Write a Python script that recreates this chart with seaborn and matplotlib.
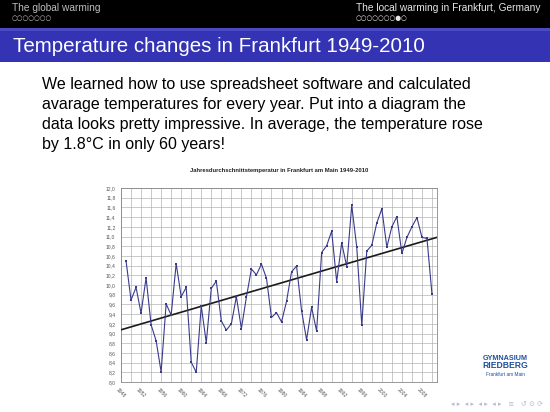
import matplotlib
matplotlib.use("Agg")
import matplotlib.pyplot as plt
import numpy as np
import pandas as pd
import seaborn as sns
from matplotlib.patches import Rectangle
from matplotlib.ticker import FixedLocator


sns.set_style("white")
plt.rcParams["font.family"] = ["Liberation Sans", "DejaVu Sans"]

years = list(range(1949, 2011))
temps = [
    10.50, 9.69, 9.95, 9.42, 10.15, 9.18, 8.85, 8.21, 9.61, 9.38,
    10.44, 9.76, 9.95, 8.41, 8.20, 9.57, 8.81, 9.93, 10.08, 9.26,
    9.07, 9.20, 9.76, 9.10, 9.75, 10.33, 10.21, 10.43, 10.14, 9.33,
    9.43, 9.24, 9.66, 10.27, 10.39, 9.47, 8.87, 9.54, 9.05, 10.67,
    10.81, 11.11, 10.07, 10.87, 10.38, 11.64, 10.78, 9.18, 10.70, 10.82,
    11.28, 11.57, 10.78, 11.20, 11.41, 10.65, 10.98, 11.20, 11.39, 10.98,
    10.96, 9.81,
]
x_labels = list(range(1948, 2009, 4))
y_ticks = [round(8.0 + 0.2 * i, 1) for i in range(21)]

df = pd.DataFrame({"year": years, "temp": temps})

W, H = 550, 412
fig = plt.figure(figsize=(W / 100, H / 100), dpi=100)
fig.patch.set_facecolor("white")

# beamer header: black navigation bar + blue frame title
fig.patches.append(Rectangle((0, 1 - 28 / H), 1, 28 / H, transform=fig.transFigure,
                             facecolor="black", edgecolor="none", zorder=0))
fig.patches.append(Rectangle((0, 1 - 62 / H), 1, 34 / H, transform=fig.transFigure,
                             facecolor="#3333b3", edgecolor="none", zorder=0))
fig.patches.append(Rectangle((0, 1 - 31 / H), 1, 3 / H, transform=fig.transFigure,
                             facecolor="#4a4ac4", edgecolor="none", zorder=0))

fig.text(12 / W, 1 - 8 / H, "The global warming", color="#bdbdbd", fontsize=7.3,
         va="center", ha="left")
fig.text(12 / W, 1 - 18 / H, "○○○○○○○", color="#bdbdbd", fontsize=4.8,
         va="center", ha="left", family=["DejaVu Sans"])
fig.text(356 / W, 1 - 8 / H, "The local warming in Frankfurt, Germany", color="#e6e6e6",
         fontsize=7.3, va="center", ha="left")
fig.text(356 / W, 1 - 18 / H, "○○○○○○○●○", color="#e6e6e6", fontsize=4.8,
         va="center", ha="left", family=["DejaVu Sans"])
fig.text(13 / W, 1 - 46 / H, "Temperature changes in Frankfurt 1949-2010", color="white",
         fontsize=14.8, va="center", ha="left")

body = ("We learned how to use spreadsheet software and calculated\n"
        "avarage temperatures for every year. Put into a diagram the\n"
        "data looks pretty impressive. In average, the temperature rose\n"
        "by 1.8°C in only 60 years!")
fig.text(42 / W, 1 - 77 / H, body, color="black", fontsize=11.5, va="top", ha="left",
         linespacing=1.42)

fig.text(279 / W, 1 - 171 / H, "Jahresdurchschnittstemperatur in Frankfurt am Main 1949-2010",
         color="#222222", fontsize=4.2, fontweight="bold", va="center", ha="center")

ax = fig.add_axes([121 / W, 1 - 382 / H, 316 / W, 194 / H])
ax.set_xlim(1948, 2011)
ax.set_ylim(8, 12)

sns.regplot(data=df, x="year", y="temp", ax=ax, scatter=False, ci=None, truncate=False,
            line_kws={"color": "#1a1a1a", "linewidth": 1.2, "zorder": 3})
sns.lineplot(data=df, x="year", y="temp", ax=ax, color="#3a3a8c", linewidth=0.8,
             marker="s", markersize=2, markeredgewidth=0, zorder=4)

ax.set_xlim(1948, 2011)
ax.set_ylim(8, 12)
ax.set_xlabel("")
ax.set_ylabel("")

ax.set_xticks(x_labels)
ax.set_xticklabels([str(v) for v in x_labels], rotation=-45, ha="center", va="top",
                   fontsize=3.6, color="#555555")
ax.xaxis.set_minor_locator(FixedLocator(list(range(1948, 2012, 2))))
ax.set_yticks(y_ticks)
ax.set_yticklabels([f"{v:.1f}".replace(".", ",") for v in y_ticks], fontsize=3.6,
                   color="#555555")
ax.tick_params(axis="both", which="both", length=2, width=0.4, color="#777777", pad=2)
ax.tick_params(axis="x", which="major", direction="out")
ax.tick_params(axis="y", which="major", direction="out")

ax.grid(True, which="both", axis="x", color="#b3b3b3", linewidth=0.5)
ax.grid(True, which="major", axis="y", color="#b3b3b3", linewidth=0.5)
ax.set_axisbelow(True)
for spine in ax.spines.values():
    spine.set_color("#888888")
    spine.set_linewidth(0.6)

# school logo and beamer navigation symbols
fig.text(505 / W, 1 - 358 / H, "GYMNASIUM", color="#1f4f9c", fontsize=5.2,
         fontweight="bold", ha="center", va="center")
fig.text(505 / W, 1 - 366 / H, "RIEDBERG", color="#1f4f9c", fontsize=6.2,
         fontweight="bold", ha="center", va="center")
fig.text(505 / W, 1 - 374 / H, "Frankfurt am Main", color="#1f4f9c", fontsize=3.4,
         ha="center", va="center")
fig.text(497 / W, 1 - 404 / H, "◂ ▸  ◂ ▸  ◂ ▸  ◂ ▸   ≡   ↺ ⊙ ⟳", color="#b8b8d8",
         fontsize=5, ha="center", va="center", family=["DejaVu Sans"])

fig.savefig("out.png", dpi=100)
